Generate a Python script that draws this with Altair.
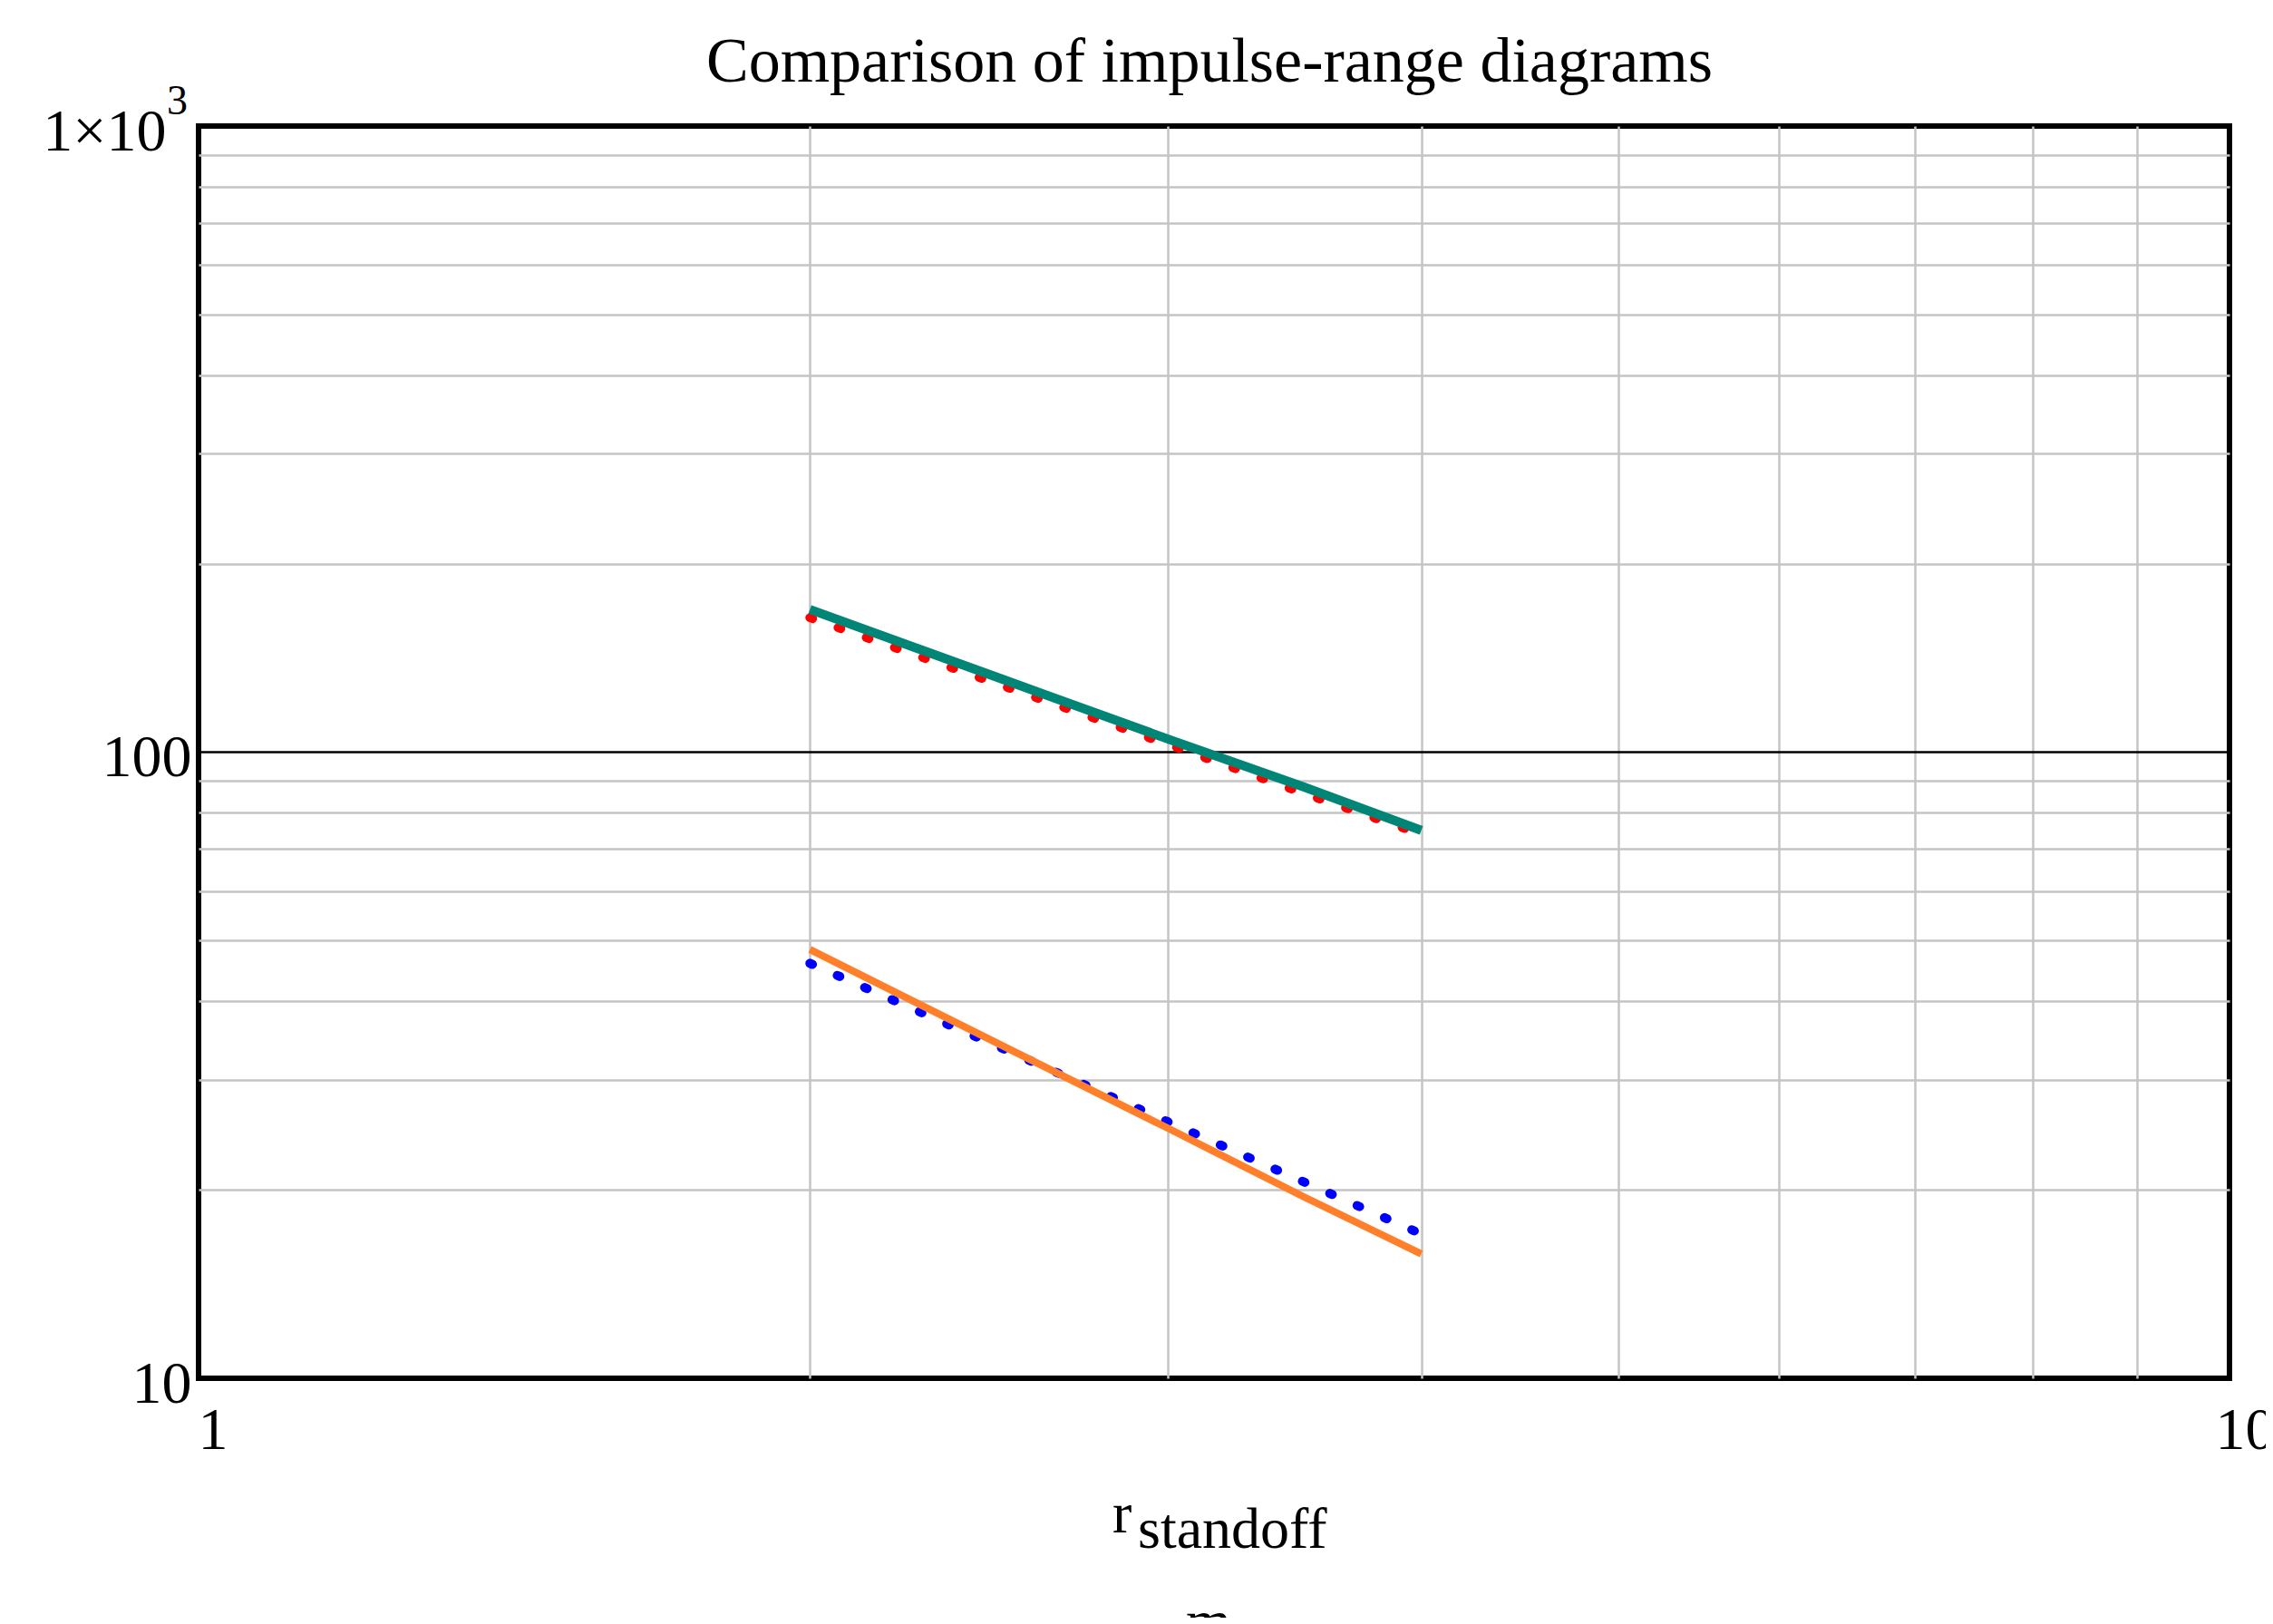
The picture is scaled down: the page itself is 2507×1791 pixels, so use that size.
import altair as alt
import pandas as pd

# ---- data (log-log plot) ----
r_standoff = [2.0, 2.5, 3.0, 3.5, 4.0]
teal_solid = [169.0, 130.0, 105.0, 88.0, 75.0]
red_dotted = [164.0, 127.0, 103.0, 86.0, 74.0]
orange_solid = [48.4, 33.7, 25.1, 19.5, 15.8]
blue_dotted = [46.0, 33.4, 25.7, 20.6, 17.0]

series_names = ["teal", "red", "orange", "blue"]
series_values = [teal_solid, red_dotted, orange_solid, blue_dotted]

x_grid = [1, 2, 3, 4, 5, 6, 7, 8, 9, 10]
y_grid = [10, 20, 30, 40, 50, 60, 70, 80, 90, 100,
          200, 300, 400, 500, 600, 700, 800, 900, 1000]

title_text = "Comparison of impulse-range diagrams"

rows = []
for name, vals in zip(series_names, series_values):
    for x, y in zip(r_standoff, vals):
        rows.append({"r": x, "I": y, "series": name})
df = pd.DataFrame(rows)

FONT = "Liberation Serif"
W, H = 2240, 1381

x_enc = alt.X(
    "r:Q",
    scale=alt.Scale(type="log", domain=[1, 10], nice=False),
    axis=alt.Axis(
        values=x_grid,
        labelExpr="datum.value == 1 ? '1' : (datum.value == 10 ? '10' : '')",
        grid=True,
        gridColor="#c4c4c4",
        gridWidth=2.5,
        gridOpacity={"condition": {"test": "datum.value == 1 || datum.value == 10", "value": 0}, "value": 1},
        domain=False,
        ticks=False,
        tickSize=0,
        labelFont=FONT,
        labelFontSize=66,
        labelColor="black",
        labelBaseline="alphabetic",
        labelAlign="left",
        labelPadding=77,
        labelOffset={"condition": {"test": "datum.value == 10", "value": -16}, "value": -1},
        labelOverlap=False,
        labelFlush=False,
        title=None,
    ),
)

y_enc = alt.Y(
    "I:Q",
    scale=alt.Scale(type="log", domain=[10, 1000], nice=False),
    axis=alt.Axis(
        values=y_grid,
        labelExpr="datum.value == 10 ? '10' : (datum.value == 100 ? '100' : (datum.value == 1000 ? '1×10' : ''))",
        grid=True,
        gridColor={"condition": {"test": "datum.value == 100", "value": "black"}, "value": "#c4c4c4"},
        gridWidth=2.5,
        gridOpacity={"condition": {"test": "datum.value == 10 || datum.value == 1000", "value": 0}, "value": 1},
        domain=False,
        ticks=False,
        tickSize=0,
        labelFont=FONT,
        labelFontSize=66,
        labelColor="black",
        labelBaseline="alphabetic",
        labelAlign="right",
        labelPadding={"condition": {"test": "datum.value == 1000", "value": 36}, "value": 8},
        labelOffset=26,
        labelOverlap=False,
        labelFlush=False,
        title=None,
    ),
)

base = alt.Chart(df).encode(x=x_enc, y=y_enc)

red = base.transform_filter(alt.datum.series == "red").mark_line(
    color="#ff0000", strokeWidth=10, strokeDash=[3, 30], strokeCap="round")
blue = base.transform_filter(alt.datum.series == "blue").mark_line(
    color="#0000ff", strokeWidth=10, strokeDash=[3, 30], strokeCap="round")
teal = base.transform_filter(alt.datum.series == "teal").mark_line(
    color="#008577", strokeWidth=10)
orange = base.transform_filter(alt.datum.series == "orange").mark_line(
    color="#ff7f2a", strokeWidth=8)

def label(text, x, y, size, align="left", baseline="alphabetic"):
    return alt.Chart(pd.DataFrame({"t": [text]})).mark_text(
        font=FONT, fontSize=size, color="black", align=align, baseline=baseline
    ).encode(x=alt.value(x), y=alt.value(y), text="t:N")

title = label(title_text, 1115, -49, 70, align="center")
sup3 = label("3", -35, -13, 46)
r_lbl = label("r", 1008, 1551, 64)
sub_lbl = label("standoff", 1036, 1568, 64)
m_lbl = label("m", 1114, 1670, 64, align="center")

chart = alt.layer(red, blue, teal, orange, title, sup3, r_lbl, sub_lbl, m_lbl).properties(
    width=W,
    height=H,
    padding={"left": 211, "top": 131, "right": 40, "bottom": 264},
    autosize=alt.AutoSizeParams(type="none"),
    background="white",
).configure_view(
    stroke="black", strokeWidth=6
)

chart.save("out.html", embed_options={"renderer": "svg", "actions": False})
